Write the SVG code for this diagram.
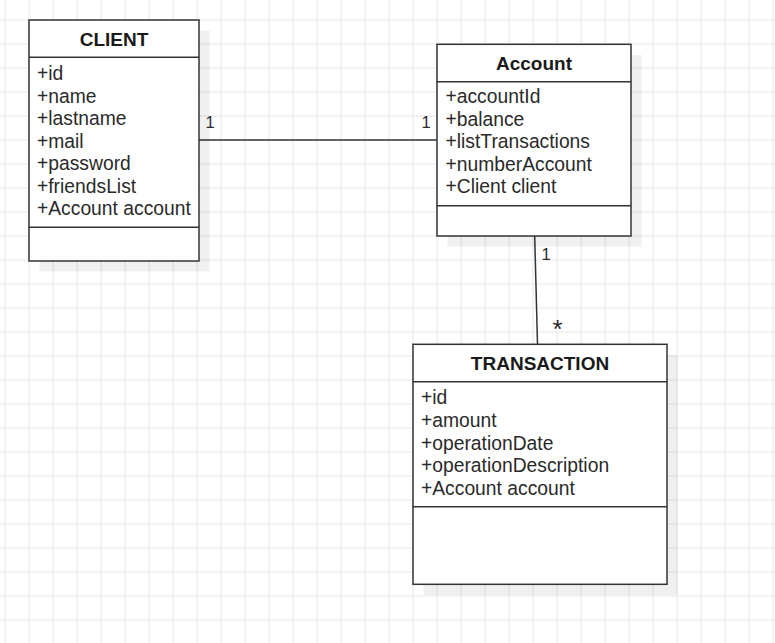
<svg xmlns="http://www.w3.org/2000/svg" width="775" height="643" viewBox="0 0 775 643">
<style>
text{font-family:"Liberation Sans",Arial,Helvetica,sans-serif;fill:#1a1a1a}
.t{font-size:19px;font-weight:bold;text-anchor:middle}
.a{font-size:19.3px;fill:#2a2a2a}
.l{font-size:16.5px;fill:#2a2a2a}
.box{fill:#fff;stroke:#333;stroke-width:1.5}
.sep{stroke:#333;stroke-width:1.5}
.sh{fill:#000;fill-opacity:0.06}
.conn{stroke:#333;stroke-width:1.5;fill:none}
</style>
<defs>
<pattern id="grid" patternUnits="userSpaceOnUse" x="4.3" y="19.3" width="24" height="24">
<rect x="0" y="0" width="24" height="1.4" fill="#ececec"/>
<rect x="0" y="0" width="1.4" height="24" fill="#ececec"/>
</pattern>
</defs>
<rect x="0" y="0" width="775" height="643" fill="#fff"/>
<rect x="0" y="0" width="775" height="643" fill="url(#grid)"/>

<g id="connectors">
<line class="conn" x1="199" y1="140" x2="437" y2="140"/>
<line class="conn" x1="534.7" y1="236" x2="537.5" y2="344"/>
<text class="l" x="205.5" y="127.5">1</text>
<text class="l" x="421.5" y="127.5">1</text>
<text class="l" x="541.5" y="259.5">1</text>
<text class="l" x="552.5" y="338" style="font-size:26px">*</text>
</g>

<g id="client">
<rect class="sh" x="39.5" y="30.5" width="170" height="241"/>
<rect class="box" x="29" y="20" width="170" height="241"/>
<line class="sep" x1="29" y1="57.3" x2="199" y2="57.3"/>
<line class="sep" x1="29" y1="227.3" x2="199" y2="227.3"/>
<text class="t" x="114" y="46">CLIENT</text>
<text class="a" x="37" y="80">+id</text>
<text class="a" x="37" y="102.5">+name</text>
<text class="a" x="37" y="125">+lastname</text>
<text class="a" x="37" y="147.5">+mail</text>
<text class="a" x="37" y="170">+password</text>
<text class="a" x="37" y="192.5">+friendsList</text>
<text class="a" x="37" y="215">+Account account</text>
</g>

<g id="account">
<rect class="sh" x="447.5" y="55" width="194" height="191.7"/>
<rect class="box" x="437" y="44.3" width="194" height="191.7"/>
<line class="sep" x1="437" y1="81.7" x2="631" y2="81.7"/>
<line class="sep" x1="437" y1="205.7" x2="631" y2="205.7"/>
<text class="t" x="534" y="70">Account</text>
<text class="a" x="445.5" y="103.3">+accountId</text>
<text class="a" x="445.5" y="125.8">+balance</text>
<text class="a" x="445.5" y="148.3">+listTransactions</text>
<text class="a" x="445.5" y="170.8">+numberAccount</text>
<text class="a" x="445.5" y="193.3">+Client client</text>
</g>

<g id="transaction">
<rect class="sh" x="423.5" y="355" width="254" height="240"/>
<rect class="box" x="413" y="344.3" width="254" height="240"/>
<line class="sep" x1="413" y1="381.7" x2="667" y2="381.7"/>
<line class="sep" x1="413" y1="506.7" x2="667" y2="506.7"/>
<text class="t" x="540" y="370">TRANSACTION</text>
<text class="a" x="421" y="404">+id</text>
<text class="a" x="421" y="426.75">+amount</text>
<text class="a" x="421" y="449.5">+operationDate</text>
<text class="a" x="421" y="472.25">+operationDescription</text>
<text class="a" x="421" y="495">+Account account</text>
</g>
</svg>
